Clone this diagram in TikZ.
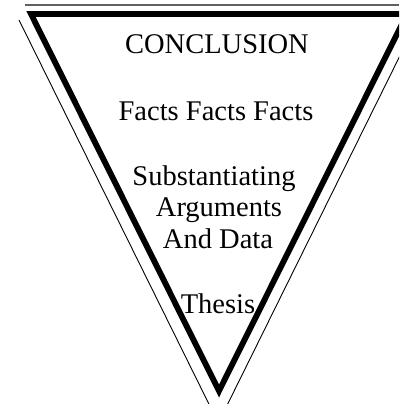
\documentclass[tikz,border=0pt]{standalone}
\usepackage{fontspec}
\setmainfont{Liberation Serif}
\tikzset{
  thickedge/.style={line width=5.8pt, line join=miter, miter limit=10},
  thinedge/.style={line width=0.9pt},
  rule/.style={line width=1.8pt, draw=black!62},
  lbl/.style={anchor=base, inner sep=0pt, font=\fontsize{28.5}{32}\selectfont}
}
\begin{document}
\begin{tikzpicture}[x=1pt,y=-1pt]
\useasboundingbox (0,0) rectangle (399,404);
\clip (0,0) rectangle (399,404);
\coordinate (rl) at (25,5);
\coordinate (rr) at (399,5);
\draw[rule] (rl) -- (rr);
\coordinate (tl) at (31,14);
\coordinate (tr) at (407,14);
\coordinate (tb) at (219,391);
\draw[thickedge] (tl) -- (tr) -- (tb) -- cycle;
\coordinate (ol) at (19,20);
\coordinate (ob) at (218.3,423);
\coordinate (or) at (417.6,20);
\draw[thinedge] (ol) -- (ob) -- (or);
\node[lbl] (concl) at (217,53) {CONCLUSION};
\node[lbl] (facts) at (216,120) {Facts Facts Facts};
\node[lbl] (subst) at (214,185) {Substantiating};
\node[lbl] (argum) at (219,216.5) {Arguments};
\node[lbl] (anddata) at (218,248) {And Data};
\node[lbl] (thesis) at (218,313) {Thesis};
\end{tikzpicture}
\end{document}
